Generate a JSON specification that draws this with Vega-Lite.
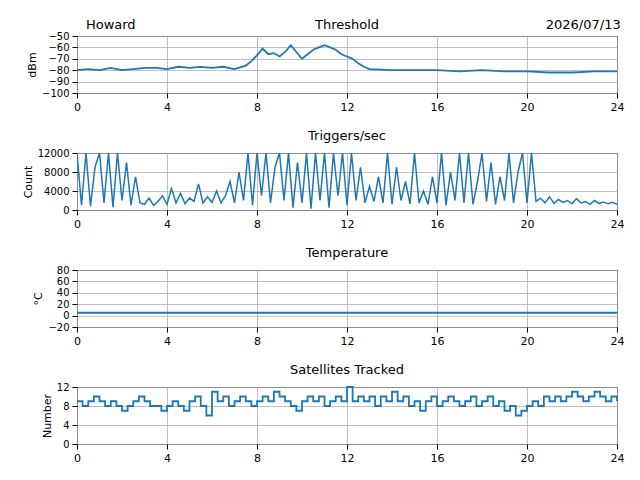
{
"$schema":"https://vega.github.io/schema/vega-lite/v6.json",
"padding":{"left":21,"top":18,"right":13,"bottom":5},
"spacing":16,
"config":{"font":"DejaVu Sans","view":{"stroke":"black","strokeWidth":1},
"axis":{"grid":true,"gridColor":"#b0b0b0","gridWidth":0.8,"domain":false,"tickColor":"black","labelColor":"black","labelFontSize":11,"titleFontSize":11,"titleFontWeight":"normal","titleColor":"black","labelFont":"DejaVu Sans","titleFont":"DejaVu Sans","labelPadding":3,"labelOverlap":false,"labelFlush":false,"titlePadding":4},
"axisY":{"labelFontSize":10},
"title":{"fontSize":13,"fontWeight":"normal","offset":5,"font":"DejaVu Sans"},
"line":{"color":"#1f77b4","strokeWidth":1.8}},
"vconcat":[
{"width":540,"height":57,
"layer":[
{"data":{"values":[{"t":0,"v":-80},{"t":0.5,"v":-79},{"t":1,"v":-80},{"t":1.5,"v":-78},{"t":2,"v":-80},{"t":2.5,"v":-79},{"t":3,"v":-78},{"t":3.5,"v":-78},{"t":4,"v":-79},{"t":4.5,"v":-77},{"t":5,"v":-78},{"t":5.5,"v":-77},{"t":6,"v":-78},{"t":6.5,"v":-77},{"t":7,"v":-79},{"t":7.5,"v":-76},{"t":7.75,"v":-72},{"t":8,"v":-67},{"t":8.25,"v":-61},{"t":8.5,"v":-66},{"t":8.75,"v":-65},{"t":9,"v":-68},{"t":9.25,"v":-64},{"t":9.5,"v":-58},{"t":9.75,"v":-64},{"t":10,"v":-70},{"t":10.25,"v":-66},{"t":10.5,"v":-62},{"t":10.75,"v":-60},{"t":11,"v":-58},{"t":11.25,"v":-60},{"t":11.5,"v":-62},{"t":11.75,"v":-66},{"t":12,"v":-68},{"t":12.25,"v":-70},{"t":12.5,"v":-74},{"t":12.75,"v":-77},{"t":13,"v":-79},{"t":14,"v":-80},{"t":15,"v":-80},{"t":16,"v":-80},{"t":17,"v":-81},{"t":18,"v":-80},{"t":19,"v":-81},{"t":20,"v":-81},{"t":21,"v":-82},{"t":22,"v":-82},{"t":23,"v":-81},{"t":24,"v":-81}]},
"mark":{"type":"line"},
"encoding":{"x":{"field":"t","type":"quantitative","scale":{"domain":[0,24],"nice":false},"axis":{"values":[0,4,8,12,16,20,24],"title":null}},
"y":{"field":"v","type":"quantitative","scale":{"domain":[-100,-50],"nice":false},"axis":{"values":[-100,-90,-80,-70,-60,-50],"title":"dBm"}}}},
{"data":{"values":[{"t":1.5,"label":"Howard"},{"t":12,"label":"Threshold"},{"t":22.5,"label":"2026/07/13"}]},
"mark":{"type":"text","fontSize":13,"baseline":"bottom","dy":-4,"font":"DejaVu Sans"},
"encoding":{"x":{"field":"t","type":"quantitative","scale":{"domain":[0,24],"nice":false},"axis":{"values":[0,4,8,12,16,20,24],"title":null}},"y":{"datum":-50,"type":"quantitative","scale":{"domain":[-100,-50],"nice":false},"axis":{"values":[-100,-90,-80,-70,-60,-50],"title":"dBm"}},"text":{"field":"label"}}}
]},
{"width":540,"height":57,"title":"Triggers/sec",
"data":{"values":[{"t":0,"v":12000},{"t":0.2,"v":1000},{"t":0.4,"v":12000},{"t":0.6,"v":800},{"t":0.8,"v":9000},{"t":1.0,"v":12000},{"t":1.2,"v":1500},{"t":1.4,"v":12000},{"t":1.6,"v":600},{"t":1.8,"v":12000},{"t":2.0,"v":2000},{"t":2.2,"v":10000},{"t":2.4,"v":1000},{"t":2.6,"v":7000},{"t":2.8,"v":1500},{"t":3.0,"v":1200},{"t":3.2,"v":2500},{"t":3.4,"v":1000},{"t":3.6,"v":1800},{"t":3.8,"v":3000},{"t":4.0,"v":1200},{"t":4.2,"v":4500},{"t":4.4,"v":1500},{"t":4.6,"v":3500},{"t":4.8,"v":1300},{"t":5.0,"v":2500},{"t":5.2,"v":1800},{"t":5.4,"v":5500},{"t":5.6,"v":1500},{"t":5.8,"v":2800},{"t":6.0,"v":1600},{"t":6.2,"v":4000},{"t":6.4,"v":1500},{"t":6.6,"v":3000},{"t":6.8,"v":6000},{"t":7.0,"v":1500},{"t":7.2,"v":8000},{"t":7.4,"v":2000},{"t":7.6,"v":12000},{"t":7.8,"v":1000},{"t":8.0,"v":12000},{"t":8.2,"v":3000},{"t":8.4,"v":12000},{"t":8.6,"v":1500},{"t":8.8,"v":9000},{"t":9.0,"v":12000},{"t":9.2,"v":2000},{"t":9.4,"v":12000},{"t":9.6,"v":500},{"t":9.8,"v":10000},{"t":10.0,"v":1500},{"t":10.2,"v":12000},{"t":10.4,"v":300},{"t":10.6,"v":12000},{"t":10.8,"v":2000},{"t":11.0,"v":12000},{"t":11.2,"v":500},{"t":11.4,"v":12000},{"t":11.6,"v":3000},{"t":11.8,"v":12000},{"t":12.0,"v":1000},{"t":12.2,"v":12000},{"t":12.4,"v":2000},{"t":12.6,"v":9000},{"t":12.8,"v":1500},{"t":13.0,"v":5000},{"t":13.2,"v":1800},{"t":13.4,"v":7000},{"t":13.6,"v":1500},{"t":13.8,"v":12000},{"t":14.0,"v":1200},{"t":14.2,"v":9000},{"t":14.4,"v":2000},{"t":14.6,"v":6000},{"t":14.8,"v":1300},{"t":15.0,"v":12000},{"t":15.2,"v":1500},{"t":15.4,"v":4000},{"t":15.6,"v":1200},{"t":15.8,"v":7000},{"t":16.0,"v":1500},{"t":16.2,"v":12000},{"t":16.4,"v":1000},{"t":16.6,"v":8000},{"t":16.8,"v":2000},{"t":17.0,"v":12000},{"t":17.2,"v":1500},{"t":17.4,"v":12000},{"t":17.6,"v":1200},{"t":17.8,"v":6000},{"t":18.0,"v":12000},{"t":18.2,"v":1800},{"t":18.4,"v":10000},{"t":18.6,"v":1200},{"t":18.8,"v":7000},{"t":19.0,"v":2000},{"t":19.2,"v":12000},{"t":19.4,"v":1500},{"t":19.6,"v":8000},{"t":19.8,"v":12000},{"t":20.0,"v":1500},{"t":20.2,"v":12000},{"t":20.4,"v":1800},{"t":20.6,"v":2500},{"t":20.8,"v":1500},{"t":21.0,"v":2800},{"t":21.2,"v":1400},{"t":21.4,"v":2200},{"t":21.6,"v":1600},{"t":21.8,"v":2000},{"t":22.0,"v":1300},{"t":22.2,"v":2400},{"t":22.4,"v":1500},{"t":22.6,"v":1800},{"t":22.8,"v":1200},{"t":23.0,"v":2000},{"t":23.2,"v":1400},{"t":23.4,"v":1700},{"t":23.6,"v":1300},{"t":23.8,"v":1600},{"t":24.0,"v":1200}]},
"mark":{"type":"line","clip":true,"strokeWidth":1.5},
"encoding":{"x":{"field":"t","type":"quantitative","scale":{"domain":[0,24],"nice":false},"axis":{"values":[0,4,8,12,16,20,24],"title":null}},
"y":{"field":"v","type":"quantitative","scale":{"domain":[0,12000],"nice":false},"axis":{"values":[0,4000,8000,12000],"format":"d","title":"Count"}}}},
{"width":540,"height":57,"title":"Temperature",
"data":{"values":[{"t":0,"v":5},{"t":24,"v":5}]},
"mark":{"type":"line"},
"encoding":{"x":{"field":"t","type":"quantitative","scale":{"domain":[0,24],"nice":false},"axis":{"values":[0,4,8,12,16,20,24],"title":null}},
"y":{"field":"v","type":"quantitative","scale":{"domain":[-20,80],"nice":false},"axis":{"values":[-20,0,20,40,60,80],"title":"°C"}}}},
{"width":540,"height":57,"title":"Satellites Tracked",
"data":{"values":[{"t":0,"v":9},{"t":0.25,"v":8},{"t":0.5,"v":9},{"t":0.75,"v":10},{"t":1,"v":9},{"t":1.25,"v":8},{"t":1.5,"v":9},{"t":1.75,"v":8},{"t":2,"v":7},{"t":2.25,"v":8},{"t":2.5,"v":9},{"t":2.75,"v":10},{"t":3,"v":9},{"t":3.25,"v":8},{"t":3.5,"v":8},{"t":3.75,"v":7},{"t":4,"v":8},{"t":4.25,"v":9},{"t":4.5,"v":8},{"t":4.75,"v":7},{"t":5,"v":9},{"t":5.25,"v":10},{"t":5.5,"v":8},{"t":5.75,"v":6},{"t":6,"v":11},{"t":6.25,"v":9},{"t":6.5,"v":10},{"t":6.75,"v":8},{"t":7,"v":9},{"t":7.25,"v":10},{"t":7.5,"v":9},{"t":7.75,"v":8},{"t":8,"v":9},{"t":8.25,"v":10},{"t":8.5,"v":9},{"t":8.75,"v":11},{"t":9,"v":10},{"t":9.25,"v":9},{"t":9.5,"v":8},{"t":9.75,"v":7},{"t":10,"v":9},{"t":10.25,"v":10},{"t":10.5,"v":9},{"t":10.75,"v":10},{"t":11,"v":8},{"t":11.25,"v":9},{"t":11.5,"v":10},{"t":11.75,"v":9},{"t":12,"v":12},{"t":12.25,"v":9},{"t":12.5,"v":10},{"t":12.75,"v":9},{"t":13,"v":10},{"t":13.25,"v":8},{"t":13.5,"v":10},{"t":13.75,"v":9},{"t":14,"v":11},{"t":14.25,"v":9},{"t":14.5,"v":10},{"t":14.75,"v":8},{"t":15,"v":9},{"t":15.25,"v":7},{"t":15.5,"v":9},{"t":15.75,"v":10},{"t":16,"v":8},{"t":16.25,"v":9},{"t":16.5,"v":10},{"t":16.75,"v":9},{"t":17,"v":8},{"t":17.25,"v":9},{"t":17.5,"v":10},{"t":17.75,"v":8},{"t":18,"v":9},{"t":18.25,"v":10},{"t":18.5,"v":8},{"t":18.75,"v":9},{"t":19,"v":7},{"t":19.25,"v":8},{"t":19.5,"v":6},{"t":19.75,"v":7},{"t":20,"v":8},{"t":20.25,"v":9},{"t":20.5,"v":8},{"t":20.75,"v":10},{"t":21,"v":9},{"t":21.25,"v":10},{"t":21.5,"v":9},{"t":21.75,"v":10},{"t":22,"v":11},{"t":22.25,"v":10},{"t":22.5,"v":9},{"t":22.75,"v":10},{"t":23,"v":11},{"t":23.25,"v":10},{"t":23.5,"v":9},{"t":23.75,"v":10},{"t":24,"v":9}]},
"mark":{"type":"line","interpolate":"step-after"},
"encoding":{"x":{"field":"t","type":"quantitative","scale":{"domain":[0,24],"nice":false},"axis":{"values":[0,4,8,12,16,20,24],"title":null}},
"y":{"field":"v","type":"quantitative","scale":{"domain":[0,12],"nice":false},"axis":{"values":[0,4,8,12],"title":"Number"}}}}
]}
